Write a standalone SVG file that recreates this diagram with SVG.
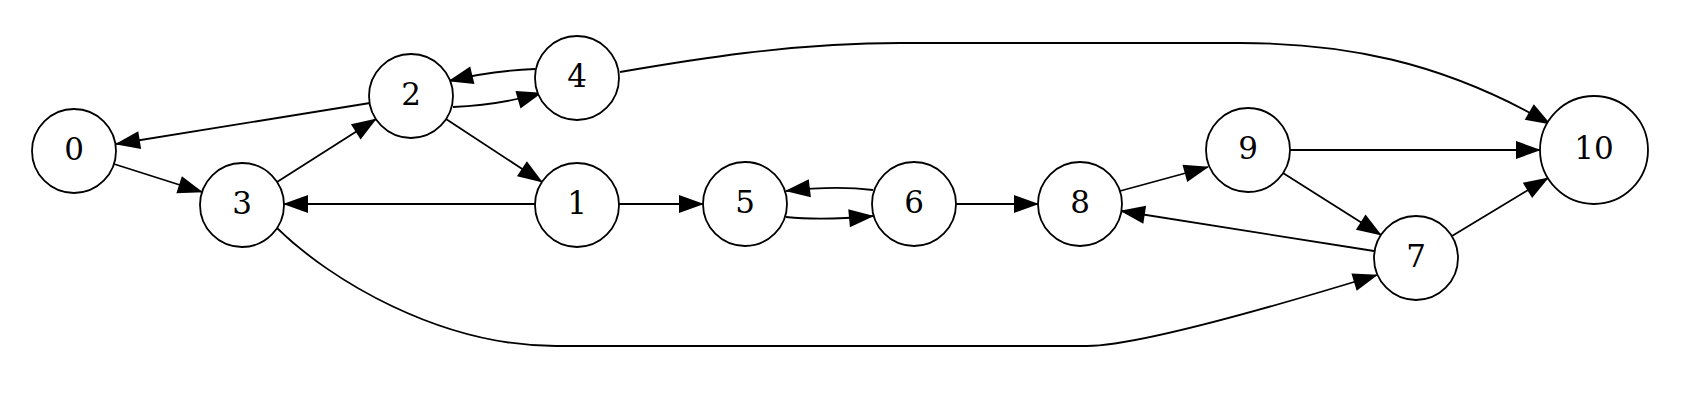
<svg xmlns="http://www.w3.org/2000/svg" width="1691" height="400" viewBox="0 0 1691 400">
<style>
.node circle{fill:#fff;stroke:#000;stroke-width:1.8}
.node text{font-family:"DejaVu Serif",serif;font-size:31px;text-anchor:middle;fill:#000}
.edges path{fill:none;stroke:#000;stroke-width:1.8;marker-end:url(#arr)}
</style>
<defs>
<marker id="arr" markerUnits="userSpaceOnUse" markerWidth="26" markerHeight="20" refX="24" refY="9" orient="auto" viewBox="0 0 26 20" overflow="visible">
<path d="M0,0 L25,9 L0,18 z" fill="#000"/>
</marker>
</defs>
<rect width="1691" height="400" fill="#fff"/>
<g class="edges">
<path d="M370,103 L116,144"/>
<path d="M114,164 L202,192"/>
<path d="M277,182 L376,119"/>
<path d="M446,119 L542,182"/>
<path d="M453,107 Q500,105 541,93"/>
<path d="M535,69 Q490,71 449,81"/>
<path d="M535,204 L284,204"/>
<path d="M619,204 L703,204"/>
<path d="M786,217 C805,219 830,220 873,216"/>
<path d="M873,190 C850,187 820,187 786,191"/>
<path d="M956,204 L1038,204"/>
<path d="M1120,191 L1208,167"/>
<path d="M1374,251 L1121,211"/>
<path d="M1290,150 L1540,150"/>
<path d="M1283,173 L1381,235"/>
<path d="M1452,236 L1548,178"/>
<path d="M620,72 C690,60 790,43 900,43 L1240,43 C1340,43 1440,60 1550,124"/>
<path d="M277,228 C330,280 440,346 556,346 L1087,346 C1130,346 1230,320 1377,275"/>
</g>
<g id="node0" class="node"><circle cx="74" cy="151" r="42"/><text x="74" y="160">0</text></g>
<g id="node2" class="node"><circle cx="411" cy="96" r="42"/><text x="411" y="105">2</text></g>
<g id="node4" class="node"><circle cx="577" cy="78" r="42"/><text x="577" y="87">4</text></g>
<g id="node3" class="node"><circle cx="242" cy="205" r="42"/><text x="242" y="214">3</text></g>
<g id="node1" class="node"><circle cx="577" cy="205" r="42"/><text x="577" y="214">1</text></g>
<g id="node5" class="node"><circle cx="745" cy="204" r="42"/><text x="745" y="213">5</text></g>
<g id="node6" class="node"><circle cx="914" cy="204" r="42"/><text x="914" y="213">6</text></g>
<g id="node8" class="node"><circle cx="1080" cy="204" r="42"/><text x="1080" y="213">8</text></g>
<g id="node9" class="node"><circle cx="1248" cy="150" r="42"/><text x="1248" y="159">9</text></g>
<g id="node10" class="node"><circle cx="1594" cy="150" r="54"/><text x="1594" y="159">10</text></g>
<g id="node7" class="node"><circle cx="1416" cy="258" r="42"/><text x="1416" y="267">7</text></g>
</svg>
